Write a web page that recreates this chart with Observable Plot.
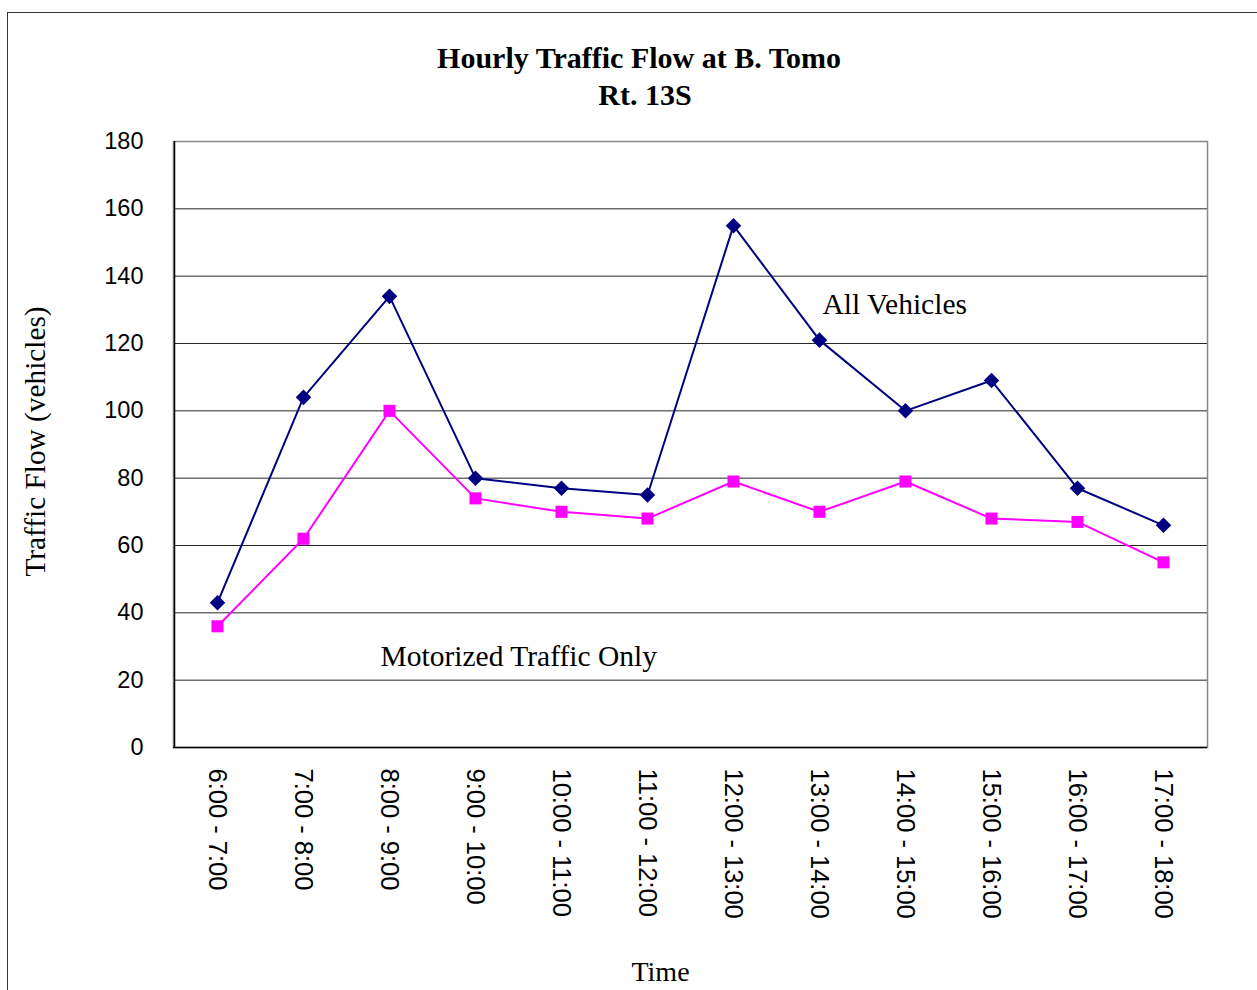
<!DOCTYPE html>
<html><head><meta charset="utf-8">
<script src="https://cdn.jsdelivr.net/npm/d3@7"></script>
<script src="https://cdn.jsdelivr.net/npm/@observablehq/plot@0.6"></script>
<style>
body{margin:0;background:#fff;}
#wrap{position:relative;width:1257px;height:990px;overflow:hidden;background:#fff;}
#chart{position:absolute;left:0;top:0;}
#border{position:absolute;left:7px;top:12px;width:1300px;height:1000px;border:1.5px solid #333;box-sizing:border-box;pointer-events:none;}
#title{position:absolute;left:0;top:39px;width:1278px;text-align:center;font:bold 30px "Liberation Serif","Times New Roman",serif;line-height:37px;color:#000;}
#title span{position:relative;left:6px;}
</style></head>
<body><div id="wrap"><div id="chart"></div><div id="border"></div><div id="title">Hourly Traffic Flow at B. Tomo<br><span>Rt. 13S</span></div></div>
<script>
const timeSlots = ["6:00 - 7:00","7:00 - 8:00","8:00 - 9:00","9:00 - 10:00","10:00 - 11:00","11:00 - 12:00","12:00 - 13:00","13:00 - 14:00","14:00 - 15:00","15:00 - 16:00","16:00 - 17:00","17:00 - 18:00"];
const allVehicles = [43,104,134,80,77,75,155,121,100,109,77,66];
const motorizedOnly = [36,62,100,74,70,68,79,70,79,68,67,55];
const yTicks = [0,20,40,60,80,100,120,140,160,180];
const seriesLabels = ["All Vehicles","Motorized Traffic Only"];

const allData = timeSlots.map((t,i)=>({t, v: allVehicles[i]}));
const motData = timeSlots.map((t,i)=>({t, v: motorizedOnly[i]}));
const serif = '"Liberation Serif","Times New Roman",serif';
const sans = '"Liberation Sans",Arial,sans-serif';

const chart = Plot.plot({
  width: 1257, height: 990,
  marginLeft: 173, marginRight: 50, marginTop: 141, marginBottom: 243,
  style: {background: "transparent", overflow: "visible"},
  x: {type: "point", domain: timeSlots, padding: 0.5},
  y: {domain: [0,180]},
  marks: [
    Plot.gridY(yTicks, {stroke: "#000", strokeOpacity: 0.85, strokeWidth: 1}),
    Plot.frame({stroke: "#888", strokeWidth: 1.5}),
    Plot.ruleX([timeSlots[0]], {stroke: "#000", strokeWidth: 1.5, dx: -43}),
    Plot.ruleY([0], {stroke: "#000", strokeWidth: 1.5}),
    Plot.axisY(yTicks, {tickSize: 0, tickPadding: 30, fontSize: 23.5, fontFamily: sans, fill: "#000", label: null}),
    Plot.axisX({tickSize: 0, tickPadding: 21, tickRotate: 90, fontSize: 25.5, fontFamily: sans, fill: "#000", label: null}),
    Plot.line(motData, {x: "t", y: "v", stroke: "#FF00FF", strokeWidth: 2}),
    Plot.dot(motData, {x: "t", y: "v", symbol: "square", r: 6.8, fill: "#FF00FF", stroke: "none"}),
    Plot.line(allData, {x: "t", y: "v", stroke: "#000080", strokeWidth: 2}),
    Plot.dot(allData, {x: "t", y: "v", symbol: "diamond2", r: 7, fill: "#000080", stroke: "none"}),
    Plot.text([seriesLabels[0]], {x: () => timeSlots[7], y: () => 131.5, dx: 3, textAnchor: "start", fontSize: 29.5, fontFamily: serif, fill: "#000"}),
    Plot.text([seriesLabels[1]], {x: () => timeSlots[2], y: () => 27, dx: -9, textAnchor: "start", fontSize: 29.5, fontFamily: serif, fill: "#000"}),
    Plot.text(["Traffic Flow (vehicles)"], {frameAnchor: "left", textAnchor: "middle", lineAnchor: "middle", rotate: -90, dx: -138, dy: -3, fontSize: 29.3, fontFamily: serif, fill: "#000"}),
    Plot.text(["Time"], {frameAnchor: "bottom", textAnchor: "middle", lineAnchor: "middle", dx: -30, dy: 225, fontSize: 28, fontFamily: serif, fill: "#000"})
  ]
});
document.getElementById("chart").appendChild(chart);
</script>
</body></html>
